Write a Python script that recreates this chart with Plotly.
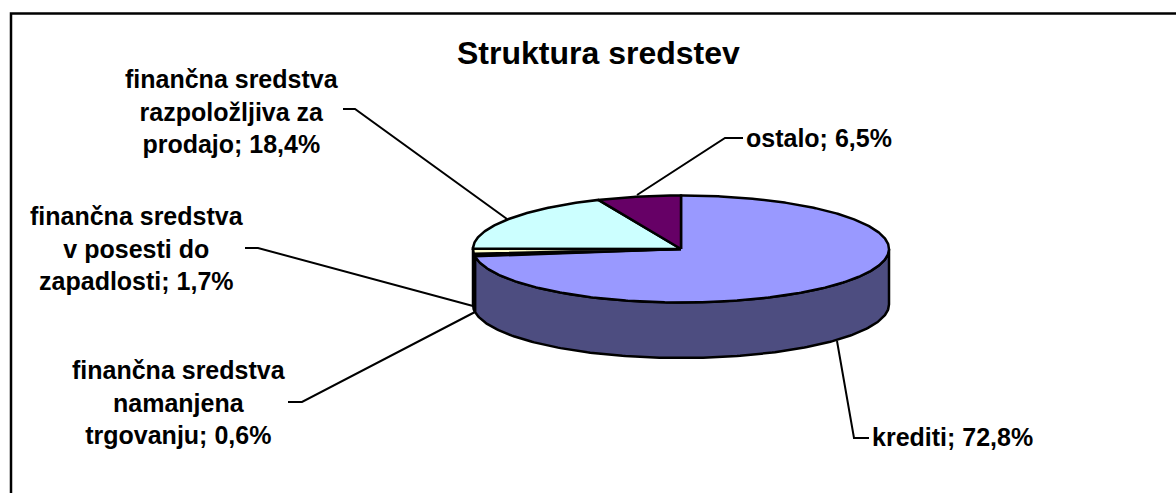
import numpy as np
import plotly.graph_objects as go

categories = ["krediti", "finančna sredstva namanjena trgovanju", "finančna sredstva v posesti do zapadlosti",
              "finančna sredstva razpoložljiva za prodajo", "ostalo"]
values = [72.8, 0.6, 1.7, 18.4, 6.5]
colors = ["#9999FF", "#993366", "#FFFFCC", "#CCFFFF", "#660066"]
wall_colors = ["#4D4D80", "#4D1A33", "#000000", "#668080", "#330033"]
label_lines = [["krediti; 72,8%"],
               ["finančna sredstva", "namanjena", "trgovanju; 0,6%"],
               ["finančna sredstva", "v posesti do", "zapadlosti; 1,7%"],
               ["finančna sredstva", "razpoložljiva za", "prodajo; 18,4%"],
               ["ostalo; 6,5%"]]
title = "Struktura sredstev"

W, H = 1176, 493
CX, CY, RX, RY, DEPTH = 681, 249, 208, 53.5, 55.5
LINE = dict(color="black", width=2.5)
LEADER = dict(color="black", width=2)


def px(t):
    return CX + RX * np.sin(t)


def py(t, d=0):
    return CY - RY * np.cos(t) + d


fracs = np.array(values) / sum(values) * 2 * np.pi
ends = np.cumsum(fracs)
starts = ends - fracs

fig = go.Figure()
# side walls: only the part of each slice facing the viewer (pi/2 .. 3pi/2 clockwise from top)
for a, b, col in zip(starts, ends, wall_colors):
    lo, hi = max(a, np.pi / 2), min(b, 3 * np.pi / 2)
    if hi <= lo:
        continue
    t = np.linspace(lo, hi, 200)
    fig.add_trace(go.Scatter(
        x=np.r_[px(t), px(t[::-1]), px(t[0])],
        y=np.r_[py(t), py(t[::-1], DEPTH), py(t[0])],
        mode="lines", fill="toself", fillcolor=col, line=LINE, hoverinfo="skip"))
# top face
for a, b, col, name in zip(starts, ends, colors, categories):
    t = np.linspace(a, b, max(int((b - a) * 100), 12))
    fig.add_trace(go.Scatter(
        x=np.r_[CX, px(t), CX], y=np.r_[CY, py(t), CY],
        mode="lines", fill="toself", fillcolor=col, line=LINE, name=name, hoverinfo="name"))

# leader lines (x, y in page pixels)
leaders = [
    ([837, 854, 869], [341, 438, 438]),
    ([288, 302, 475], [402, 402, 312]),
    ([245, 258, 473], [248, 248, 306]),
    ([343, 355, 507], [109, 109, 219]),
    ([743, 725, 637], [138, 138, 195]),
]
for lx, ly in leaders:
    fig.add_trace(go.Scatter(x=lx, y=ly, mode="lines", line=LEADER, hoverinfo="skip"))

FS = 25
label_pos = [(870, 437, "left"), (179, 402, "center"), (137, 248, "center"), (232, 111, "center"), (744, 138, "left")]
anns = []
for lines, (x, y, al) in zip(label_lines, label_pos):
    anns.append(dict(x=x, y=y, xref="x", yref="y", text="<br>".join(f"<b>{s}</b>" for s in lines),
                     showarrow=False, align=al, xanchor=al, yanchor="middle",
                     font=dict(family="Liberation Sans", size=FS, color="black")))
anns.append(dict(x=598.5, y=53, xref="x", yref="y", text=f"<b>{title}</b>", showarrow=False,
                 font=dict(family="Liberation Sans", size=32, color="black")))

fig.update_layout(
    width=W, height=H, autosize=False, showlegend=False,
    margin=dict(l=0, r=0, t=0, b=0), paper_bgcolor="white", plot_bgcolor="white",
    xaxis=dict(range=[0, W], visible=False, fixedrange=True),
    yaxis=dict(range=[H, 0], visible=False, fixedrange=True),
    annotations=anns,
    shapes=[dict(type="rect", xref="paper", yref="paper", x0=11 / W, y0=1 - 13.5 / H, x1=1.2, y1=-0.2,
                 line=dict(color="black", width=2.5))],
)
fig.write_html("out.html", config=dict(displayModeBar=False),
               post_script="document.body.style.margin='0';document.body.style.overflow='hidden';")
